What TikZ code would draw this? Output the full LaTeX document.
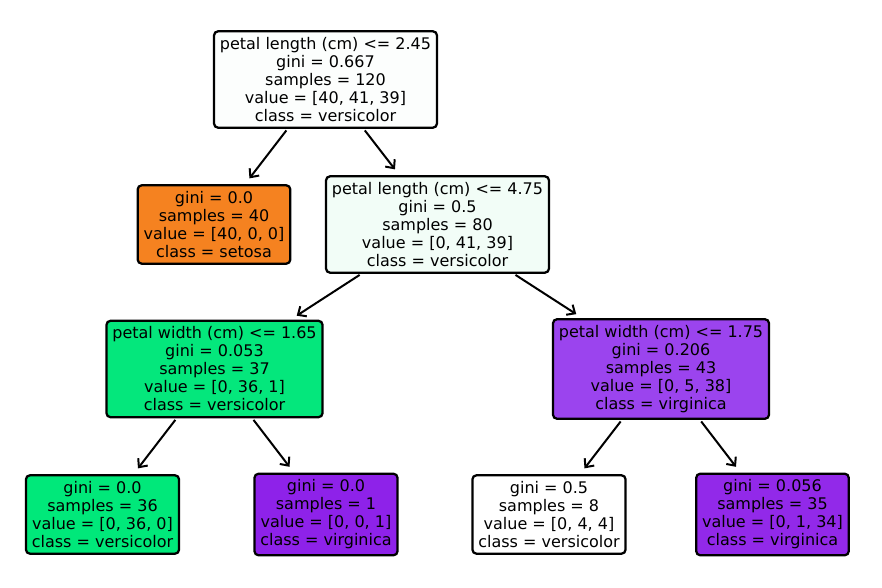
\documentclass[tikz,border=0pt]{standalone}
\usepackage{fontspec}
\setmainfont{DejaVu Sans}
\usetikzlibrary{arrows.meta}

\definecolor{rootfill}{RGB}{252,254,253}
\definecolor{midfill}{RGB}{242,253,247}
\definecolor{setosafill}{RGB}{245,130,32}
\definecolor{greenfill}{RGB}{0,232,122}
\definecolor{greennode}{RGB}{4,231,124}
\definecolor{purplenode}{RGB}{155,68,238}
\definecolor{purplefill}{RGB}{142,34,233}
\definecolor{purpleleaf}{RGB}{146,41,233}

\begin{document}
\begin{tikzpicture}[x=0.75pt,y=-0.75pt,
    treenode/.style={draw=black,line width=1.7pt,rounded corners=3pt,align=center,
      inner xsep=4.4pt,inner ysep=4.5pt,font=\fontsize{12pt}{13.5pt}\selectfont},
    arr/.style={line width=1.5pt,-{Straight Barb[length=5pt,width=9pt]},
      shorten <=1.5pt,shorten >=5.5pt}]
          \useasboundingbox (0,0) rectangle (882,588);

          \node[treenode,fill=rootfill] (root) at (325.5,79.5)
            {petal length (cm) <= 2.45\\gini = 0.667\\samples = 120\\value = [40, 41, 39]\\class = versicolor};
          \node[treenode,fill=setosafill] (setosa) at (214,224.5)
            {gini = 0.0\\samples = 40\\value = [40, 0, 0]\\class = setosa};
          \node[treenode,fill=midfill] (len) at (437.5,224.5)
            {petal length (cm) <= 4.75\\gini = 0.5\\samples = 80\\value = [0, 41, 39]\\class = versicolor};
          \node[treenode,fill=greennode] (widl) at (214.5,369)
            {petal width (cm) <= 1.65\\gini = 0.053\\samples = 37\\value = [0, 36, 1]\\class = versicolor};
          \node[treenode,fill=purplenode] (widr) at (661,369)
            {petal width (cm) <= 1.75\\gini = 0.206\\samples = 43\\value = [0, 5, 38]\\class = virginica};

          \node[treenode,fill=greenfill] (leafa) at (102.5,514.5)
            {gini = 0.0\\samples = 36\\value = [0, 36, 0]\\class = versicolor};
          \node[treenode,fill=purplefill] (leafb) at (326,514.5)
            {gini = 0.0\\samples = 1\\value = [0, 0, 1]\\class = virginica};
          \node[treenode,fill=white] (leafc) at (549,514.5)
            {gini = 0.5\\samples = 8\\value = [0, 4, 4]\\class = versicolor};
          \node[treenode,fill=purpleleaf] (leafd) at (772.5,514.5)
            {gini = 0.056\\samples = 35\\value = [0, 1, 34]\\class = virginica};

          \draw[arr] (root) -- (setosa);
          \draw[arr] (root) -- (len);
          \draw[arr] (len) -- (widl);
          \draw[arr] (len) -- (widr);
          \draw[arr] (widl) -- (leafa);
          \draw[arr] (widl) -- (leafb);
          \draw[arr] (widr) -- (leafc);
          \draw[arr] (widr) -- (leafd);
        \end{tikzpicture}
\end{document}
